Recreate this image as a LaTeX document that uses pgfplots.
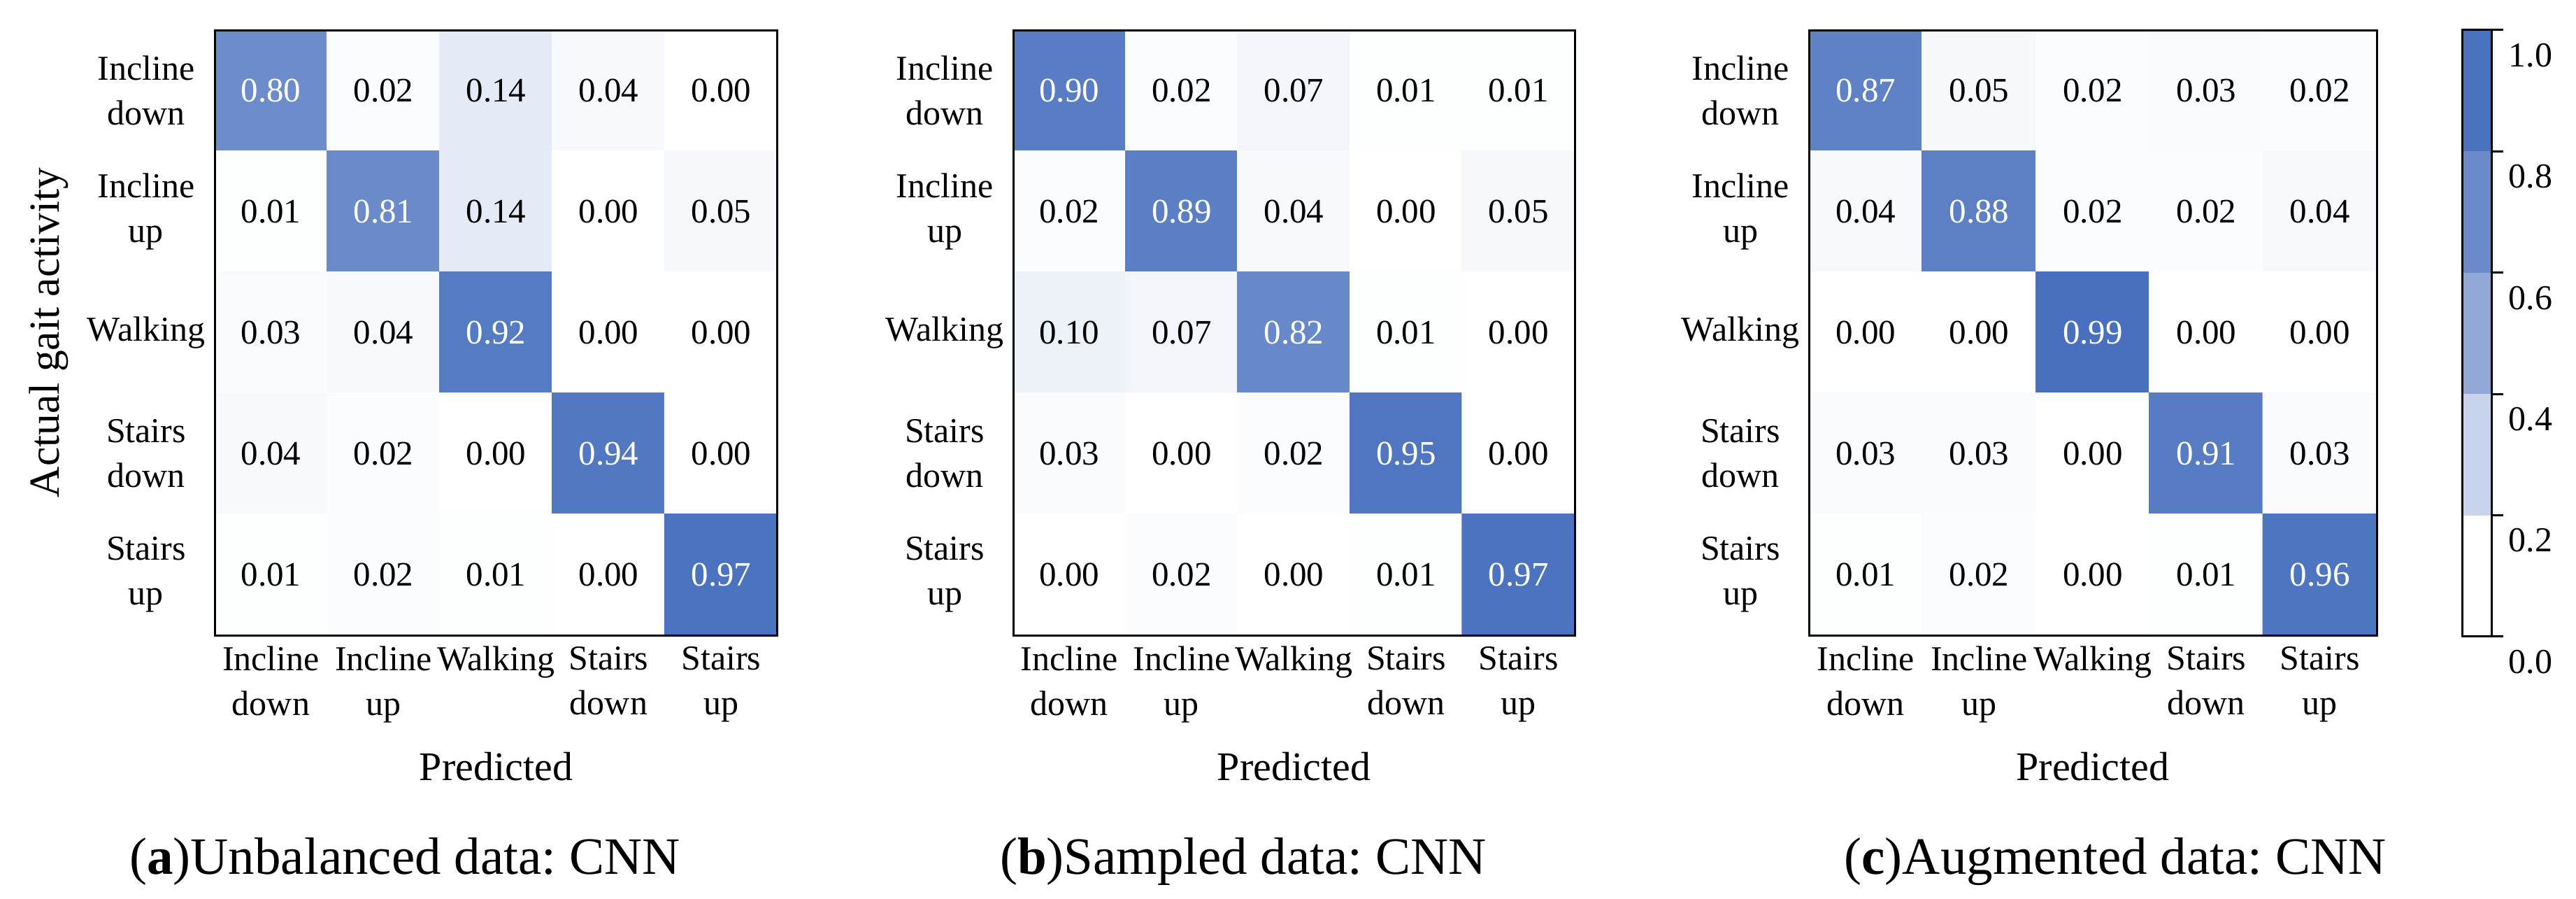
\documentclass[border=0pt]{standalone}
\usepackage{fontspec}
\setmainfont{Liberation Serif}
\usepackage{pgfplots}
\usepackage{pgfplotstable}
\pgfplotsset{compat=1.18}
\frenchspacing
\newcommand\lbl{\fontsize{10}{12.8}\selectfont}
\newcommand\num{\fontsize{9.8}{12}\selectfont}
\definecolor{cbA}{RGB}{255,255,255}
\definecolor{cbB}{RGB}{200,212,236}
\definecolor{cbC}{RGB}{146,168,214}
\definecolor{cbD}{RGB}{108,138,202}
\definecolor{cbE}{RGB}{72,113,190}
\pgfplotsset{
  cm/.style={
    scale only axis, anchor=south west,
    height=173pt,
    xmin=-0.5, xmax=4.5, ymin=-0.5, ymax=4.5, y dir=reverse,
    xtick={0,1,2,3,4}, ytick={0,1,2,3,4},
    xticklabels={{Incline\\down},{Incline\\up},{Walking},{Stairs\\down},{Stairs\\up}},
    yticklabels={{Incline\\down},{Incline\\up},{Walking},{Stairs\\down},{Stairs\\up}},
    xticklabel style={align=center, font=\lbl, inner sep=3pt},
    yticklabel style={align=center, text width=36pt, inner sep=0pt, xshift=-1.4pt, font=\lbl},
    major tick length=0pt,
    axis line style={line width=0.6pt},
    colormap={blu}{rgb255=(255,255,255) rgb255=(72,112,190)},
    point meta min=0, point meta max=1,
    xlabel={Predicted},
    xlabel style={at={(axis description cs:0.5,-0.2393)}, anchor=base, font=\fontsize{11.6}{14}\selectfont},
    axis on top,
  },
  cmplot/.style={
    matrix plot*, mesh/cols=5, point meta=\thisrow{c},
    visualization depends on={\thisrow{c} \as \cval},
    nodes near coords={\pgfmathparse{\cval>0.5}\ifnum\pgfmathresult=1 \color{white}\fi\pgfmathprintnumber[fixed,zerofill,precision=2,assume math mode=true]{\cval}},
    every node near coord/.append style={anchor=center, font=\num},
  },
}
\pgfplotstableread{
x y c
0 0 0.80
1 0 0.02
2 0 0.14
3 0 0.04
4 0 0.00
0 1 0.01
1 1 0.81
2 1 0.14
3 1 0.00
4 1 0.05
0 2 0.03
1 2 0.04
2 2 0.92
3 2 0.00
4 2 0.00
0 3 0.04
1 3 0.02
2 3 0.00
3 3 0.94
4 3 0.00
0 4 0.01
1 4 0.02
2 4 0.01
3 4 0.00
4 4 0.97
}\tabA
\pgfplotstableread{
x y c
0 0 0.90
1 0 0.02
2 0 0.07
3 0 0.01
4 0 0.01
0 1 0.02
1 1 0.89
2 1 0.04
3 1 0.00
4 1 0.05
0 2 0.10
1 2 0.07
2 2 0.82
3 2 0.01
4 2 0.00
0 3 0.03
1 3 0.00
2 3 0.02
3 3 0.95
4 3 0.00
0 4 0.00
1 4 0.02
2 4 0.00
3 4 0.01
4 4 0.97
}\tabB
\pgfplotstableread{
x y c
0 0 0.87
1 0 0.05
2 0 0.02
3 0 0.03
4 0 0.02
0 1 0.04
1 1 0.88
2 1 0.02
3 1 0.02
4 1 0.04
0 2 0.00
1 2 0.00
2 2 0.99
3 2 0.00
4 2 0.00
0 3 0.03
1 3 0.03
2 3 0.00
3 3 0.91
4 3 0.03
0 4 0.01
1 4 0.02
2 4 0.00
3 4 0.01
4 4 0.96
}\tabC
\begin{document}
\begin{tikzpicture}
\useasboundingbox (0,0) rectangle (736.8pt,257pt);
% panel a
\begin{axis}[cm, at={(61.4pt,75.4pt)}, width=161pt,
  ylabel={Actual gait activity},
  ylabel style={at={(axis description cs:-0.2758,0.5)}, anchor=base, font=\fontsize{12.3}{14}\selectfont}]
\addplot[cmplot] table[x=x,y=y] {\tabA};
\end{axis}
% panel b
\begin{axis}[cm, at={(289.8pt,75.4pt)}, width=160.6pt]
\addplot[cmplot] table[x=x,y=y] {\tabB};
\end{axis}
% panel c
\begin{axis}[cm, at={(517.4pt,75.4pt)}, width=162.4pt]
\addplot[cmplot] table[x=x,y=y] {\tabC};
\end{axis}
% colorbar
\begin{axis}[scale only axis, anchor=south west, at={(704.2pt,75pt)},
  width=8.4pt, height=173.4pt,
  xmin=0, xmax=1, ymin=0, ymax=1,
  xtick=\empty, ytick={0,0.2,0.4,0.6,0.8,1},
  ytick pos=right, tick align=outside, major tick length=3.4pt,
  tick style={line width=0.6pt, black},
  axis line style={line width=0.6pt},
  yticklabel={\pgfmathprintnumber[fixed,fixed zerofill,precision=1,assume math mode=true]{\tick}},
  yticklabel style={font=\lbl, yshift=-7.2pt, xshift=-2pt},
  stack plots=y, axis on top]
\addplot[fill=cbA, draw=none] coordinates {(0,0.2) (1,0.2)} \closedcycle;
\addplot[fill=cbB, draw=none] coordinates {(0,0.2) (1,0.2)} \closedcycle;
\addplot[fill=cbC, draw=none] coordinates {(0,0.2) (1,0.2)} \closedcycle;
\addplot[fill=cbD, draw=none] coordinates {(0,0.2) (1,0.2)} \closedcycle;
\addplot[fill=cbE, draw=none] coordinates {(0,0.2) (1,0.2)} \closedcycle;
\end{axis}
% captions
\node[anchor=base] at (115.8pt,7pt) {\fontsize{15}{17}\selectfont(\textbf{a})Unbalanced data: CNN};
\node[anchor=base] at (355.6pt,7pt) {\fontsize{15}{17}\selectfont(\textbf{b})Sampled data: CNN};
\node[anchor=base] at (605pt,7pt) {\fontsize{15}{17}\selectfont(\textbf{c})Augmented data: CNN};
\end{tikzpicture}
\end{document}
